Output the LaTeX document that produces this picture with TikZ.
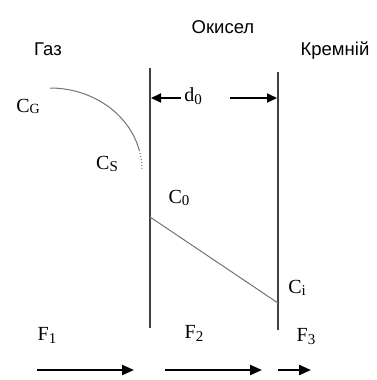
\documentclass[tikz,border=0pt]{standalone}
\usepackage{fontspec}
\setmainfont{Liberation Serif}
\newfontfamily\labfont{Liberation Sans}
\usetikzlibrary{arrows.meta}
\begin{document}
\begin{tikzpicture}[x=1pt,y=-1pt,
  wall/.style={draw=black!75,line width=2.2pt},
  flux/.style={draw=black,line width=2.2pt,-{Triangle[length=12pt,width=10pt]}},
  dim/.style={draw=black,line width=2pt,-{Triangle[length=10pt,width=9pt]}},
  region/.style={font=\labfont\fontsize{18.5}{20}\selectfont,inner sep=0pt},
  conc/.style={font=\fontsize{20}{22}\selectfont,inner sep=0pt},
  profile/.style={draw=black!55,line width=1pt}]
\useasboundingbox (0,0) rectangle (376,380);
% walls
\coordinate (L1) at (150,68);
\coordinate (L2) at (150,328);
\coordinate (R1) at (278,72);
\coordinate (R2) at (278,330);
\draw[wall] (L1) -- (L2);
\draw[wall] (R1) -- (R2);
% region labels
\node[region] (gas) at (48,49) {Газ};
\node[region] (ox) at (223,27) {Окисел};
\node[region] (si) at (335,51) {Кремній};
% gas profile
\coordinate (g0) at (50,88);
\draw[profile] (g0) arc[start angle=-90,end angle=-14,x radius=92,y radius=82]
  coordinate (g1);
\draw[profile,dotted] (g1) arc[start angle=-14,end angle=0,x radius=92,y radius=82];
% oxide profile
\coordinate (c0) at (150,217);
\coordinate (ci) at (278,303);
\draw[profile] (c0) -- (ci);
% thickness
\node[conc] (d0) at (193,96) {d\raisebox{-0.12em}{\fontsize{15}{16}\selectfont 0}};
\coordinate (dl) at (151,98);
\coordinate (dr) at (277,98);
\coordinate (dls) at (181,98);
\coordinate (drs) at (230,98);
\draw[dim] (dls) -- (dl);
\draw[dim] (drs) -- (dr);
% concentrations
\node[conc] (cg) at (28,106) {C\raisebox{-0.05em}{\fontsize{14}{14}\selectfont G}};
\node[conc] (cs) at (107,164) {C\raisebox{-0.12em}{\fontsize{15}{14}\selectfont S}};
\node[conc] (co) at (179,198) {C\raisebox{-0.12em}{\fontsize{15}{16}\selectfont 0}};
\node[conc] (cii) at (297,288) {C\raisebox{-0.12em}{\fontsize{15}{16}\selectfont i}};
% fluxes
\node[conc] (f1) at (47,335) {F\raisebox{-0.15em}{\fontsize{15}{16}\selectfont 1}};
\node[conc] (f2) at (194,333) {F\raisebox{-0.15em}{\fontsize{15}{16}\selectfont 2}};
\node[conc] (f3) at (306,337) {F\raisebox{-0.15em}{\fontsize{15}{16}\selectfont 3}};
\coordinate (a1s) at (37,370); \coordinate (a1e) at (134,370);
\coordinate (a2s) at (165,370); \coordinate (a2e) at (262,370);
\coordinate (a3s) at (278,370); \coordinate (a3e) at (311,370);
\draw[flux] (a1s) -- (a1e);
\draw[flux] (a2s) -- (a2e);
\draw[flux] (a3s) -- (a3e);
\end{tikzpicture}
\end{document}
